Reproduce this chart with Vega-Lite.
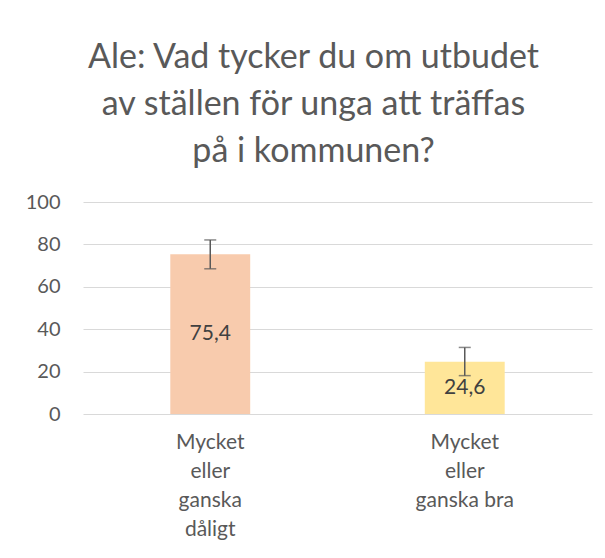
{
  "$schema": "https://vega.github.io/schema/vega-lite/v6.json",
  "width": 509,
  "height": 212,
  "autosize": {"type": "none"},
  "padding": {"left": 83, "top": 202, "right": 13, "bottom": 144},
  "background": "white",
  "title": {
    "text": ["Ale: Vad tycker du om utbudet", "av ställen för unga att träffas", "på i kommunen?"],
    "fontSize": 34,
    "font": "Lato",
    "fontWeight": "normal",
    "color": "#595959",
    "anchor": "middle",
    "dx": -24,
    "lineHeight": 47,
    "offset": 23,
    "frame": "group"
  },
  "data": {
    "values": [
      {"kategori": "Mycket|eller|ganska|dåligt", "andel": 75.4, "lo": 68.5, "hi": 82.1},
      {"kategori": "Mycket|eller|ganska bra", "andel": 24.6, "lo": 18.1, "hi": 31.4}
    ]
  },
  "encoding": {
    "x": {
      "field": "kategori",
      "type": "nominal",
      "sort": null,
      "scale": {"paddingInner": 0.686, "paddingOuter": 0.343},
      "axis": {
        "title": null,
        "labelExpr": "split(datum.label, '|')",
        "labelAngle": 0,
        "labelLineHeight": 29,
        "labelFontSize": 21,
        "labelFont": "Lato",
        "labelColor": "#595959",
        "labelPadding": 17,
        "domain": false,
        "ticks": false
      }
    }
  },
  "layer": [
    {
      "mark": {"type": "bar"},
      "encoding": {
        "y": {
          "field": "andel",
          "type": "quantitative",
          "scale": {"domain": [0, 100]},
          "axis": {
            "title": null,
            "values": [0, 20, 40, 60, 80, 100],
            "grid": true,
            "gridColor": "#d9d9d9",
            "gridWidth": 1,
            "domain": false,
            "ticks": false,
            "labelFontSize": 20,
            "labelFont": "Lato",
            "labelColor": "#595959",
            "labelPadding": 23
          }
        },
        "color": {
          "field": "kategori",
          "type": "nominal",
          "sort": null,
          "scale": {"range": ["#F8CBAD", "#FFE699"]},
          "legend": null
        }
      }
    },
    {
      "mark": {"type": "rule", "color": "#595959", "strokeWidth": 1.5},
      "encoding": {
        "y": {"field": "lo", "type": "quantitative", "scale": {"domain": [0, 100]}, "axis": null},
        "y2": {"field": "hi"}
      }
    },
    {
      "mark": {"type": "tick", "color": "#595959", "thickness": 1.5, "size": 12},
      "encoding": {
        "y": {"field": "lo", "type": "quantitative", "scale": {"domain": [0, 100]}, "axis": null}
      }
    },
    {
      "mark": {"type": "tick", "color": "#595959", "thickness": 1.5, "size": 12},
      "encoding": {
        "y": {"field": "hi", "type": "quantitative", "scale": {"domain": [0, 100]}, "axis": null}
      }
    },
    {
      "mark": {"type": "text", "font": "Lato", "fontSize": 21, "color": "#404040", "baseline": "middle"},
      "encoding": {
        "y": {"field": "andel", "type": "quantitative", "scale": {"domain": [0, 200]}, "axis": null},
        "text": {"field": "andel", "type": "quantitative", "format": ".1f"}
      }
    }
  ],
  "resolve": {"scale": {"y": "independent"}},
  "config": {
    "view": {"stroke": null},
    "locale": {
      "number": {"decimal": ",", "thousands": " ", "grouping": [3], "currency": ["", " kr"]}
    }
  }
}
